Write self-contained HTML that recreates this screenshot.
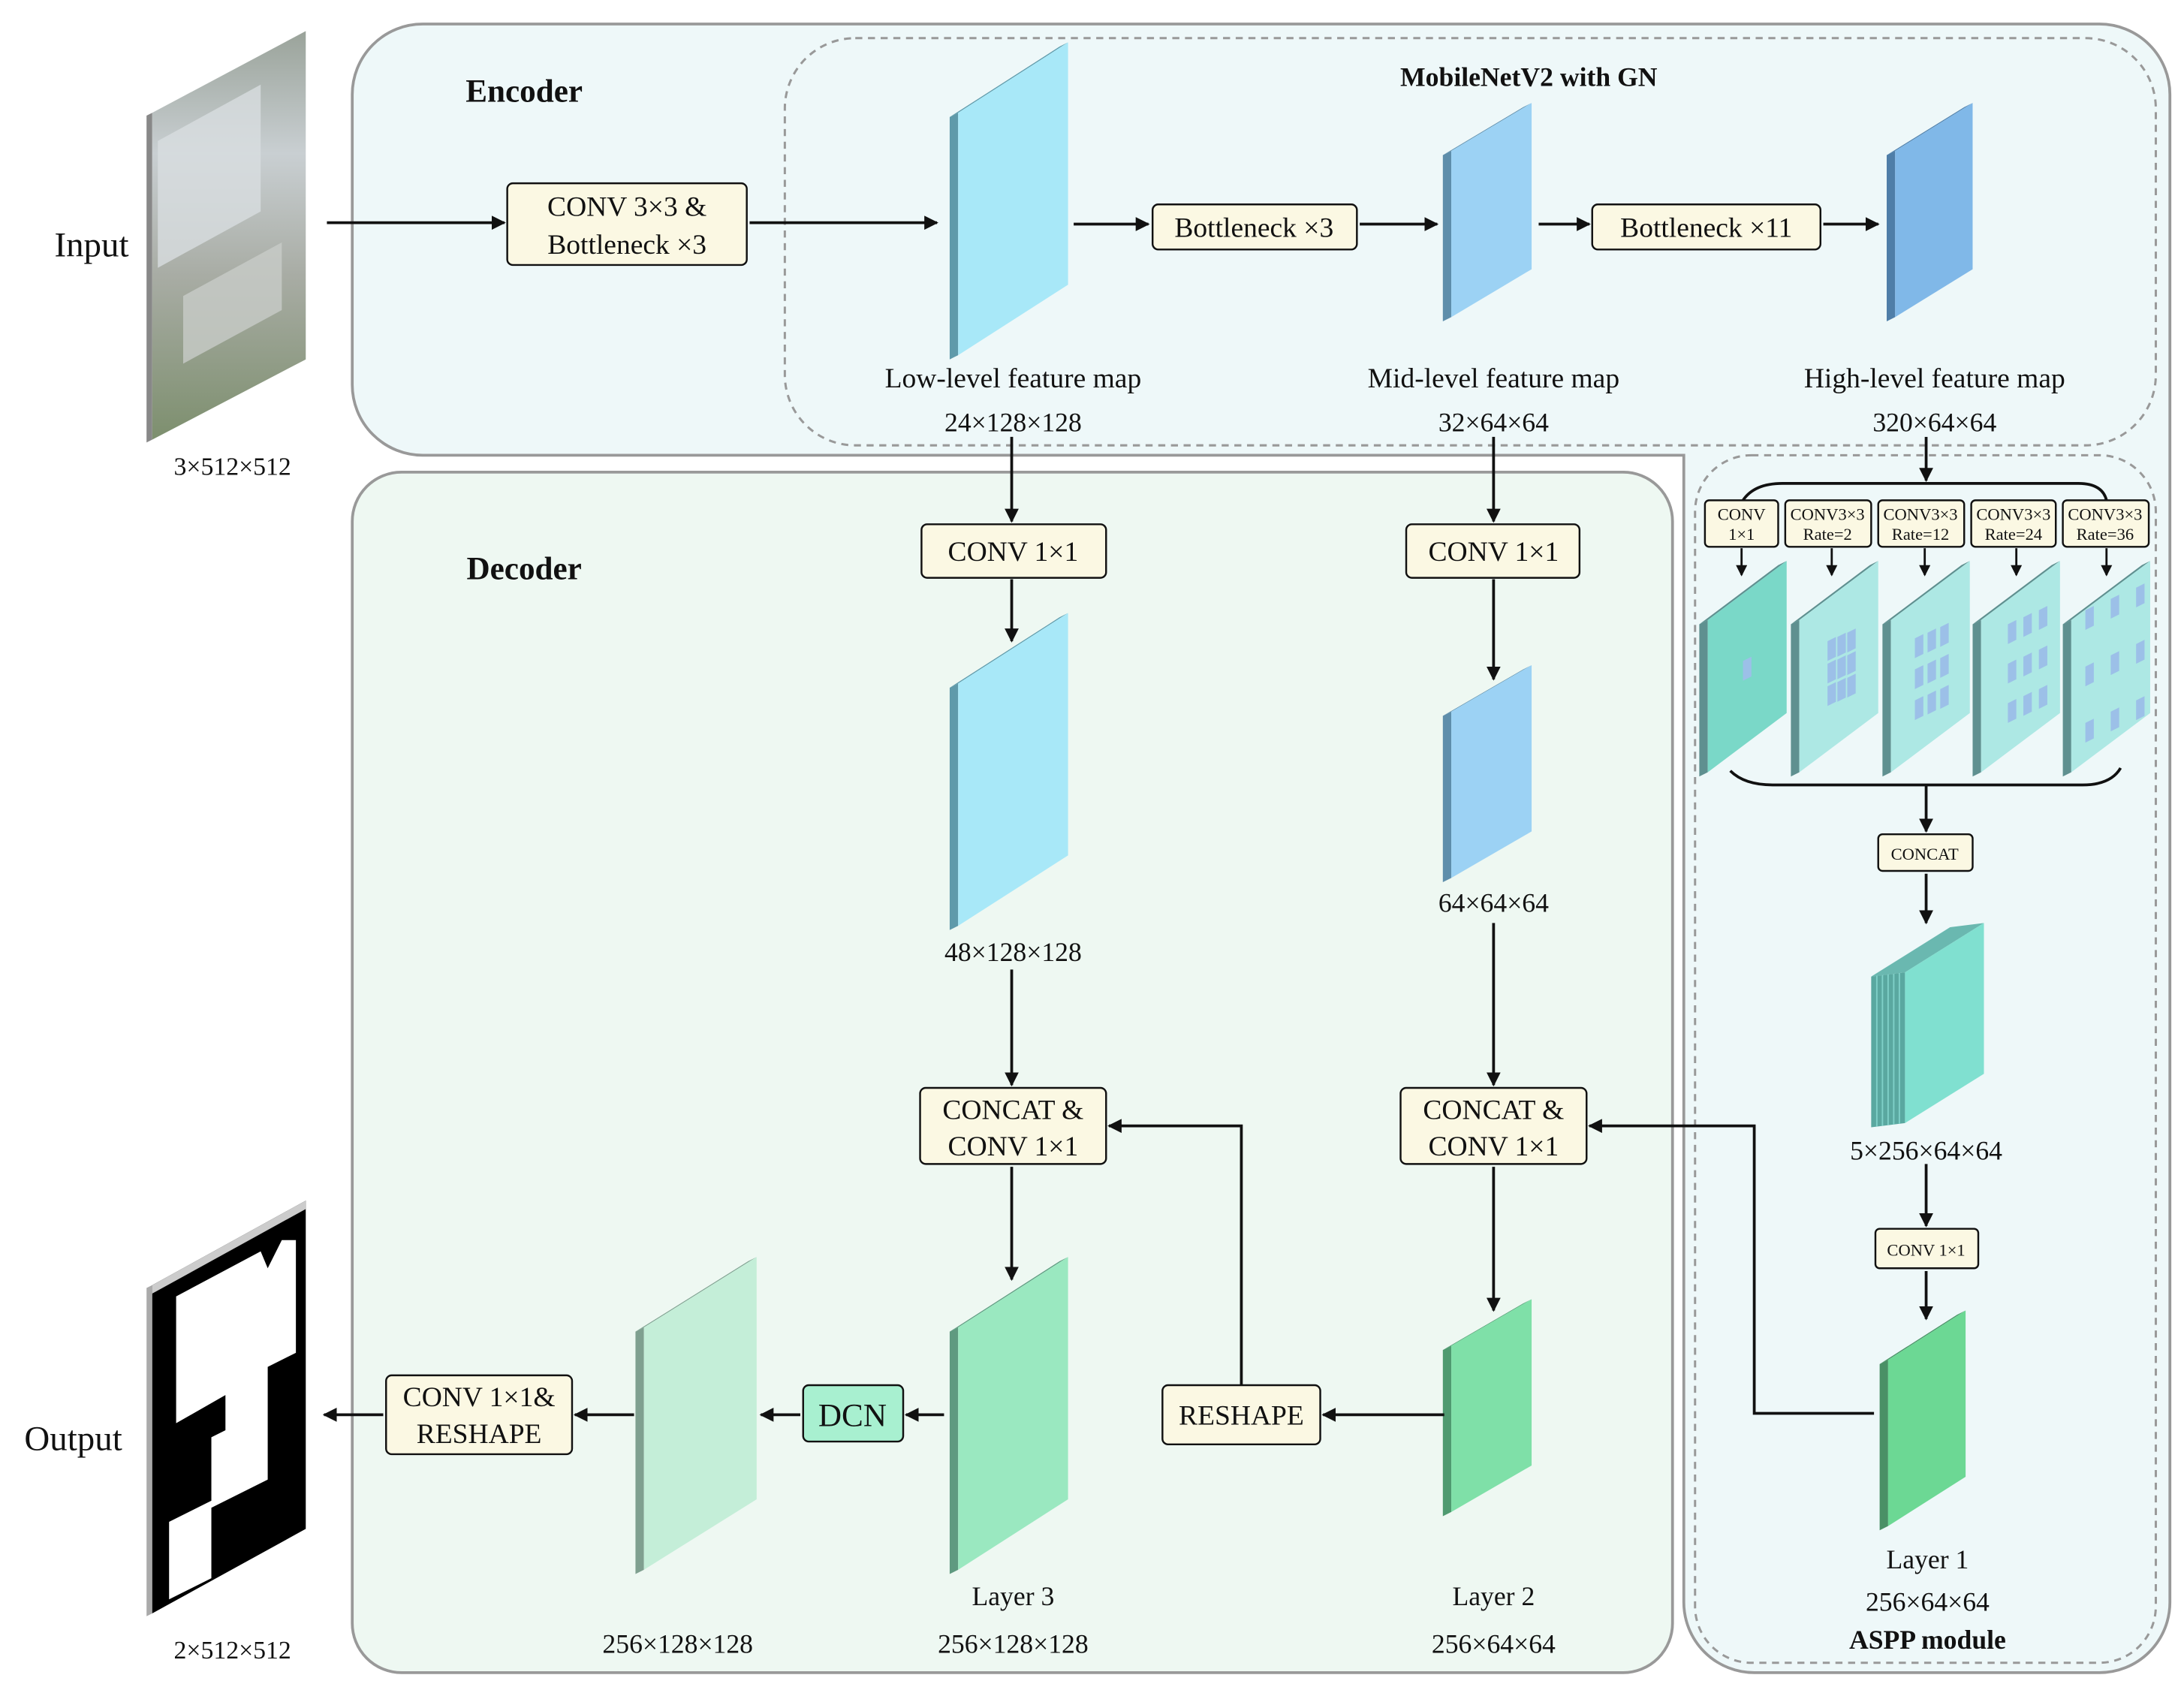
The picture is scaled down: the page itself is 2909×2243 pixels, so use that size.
<!DOCTYPE html>
<html><head><meta charset="utf-8"><style>
html,body{margin:0;padding:0;background:#fff}
svg{display:block}
text{font-family:"Liberation Serif",serif;fill:#111}
.b{fill:#fbf8e3;stroke:#111;stroke-width:1.3}
.l{stroke:#111;stroke-width:2;fill:none}
</style></head><body>
<svg id="s" width="2909" height="2243" viewBox="0 0 1550 1195" xmlns="http://www.w3.org/2000/svg">
<defs>
<marker id="a" markerWidth="10" markerHeight="10" refX="9" refY="5" orient="auto" markerUnits="userSpaceOnUse"><path d="M0,0 L10,5 L0,10 z" fill="#111"/></marker>
<marker id="as" markerWidth="8" markerHeight="8" refX="7" refY="4" orient="auto" markerUnits="userSpaceOnUse"><path d="M0,0 L8,4 L0,8 z" fill="#111"/></marker>
<linearGradient id="gi" x1="0" y1="0" x2="0" y2="1"><stop offset="0" stop-color="#9aa39a"/><stop offset=".3" stop-color="#c9cfd2"/><stop offset=".6" stop-color="#a8aca4"/><stop offset="1" stop-color="#7d8f6e"/></linearGradient>
</defs>
<path d="M300,17 H1490 A50,50 0 0 1 1540,67 V1137 A50,50 0 0 1 1490,1187 H1245 A50,50 0 0 1 1195,1137 V323 H300 A50,50 0 0 1 250,273 V67 A50,50 0 0 1 300,17 Z" fill="#eef8f9" stroke="#999" stroke-width="2"/>
<rect x="250" y="335" width="937" height="852" rx="35" fill="#eef8f2" stroke="#999" stroke-width="2"/>
<rect x="557" y="27" width="973" height="289" rx="50" fill="none" stroke="#999" stroke-width="1.6" stroke-dasharray="5,4"/>
<rect x="1203" y="323" width="327" height="857" rx="40" fill="none" stroke="#999" stroke-width="1.6" stroke-dasharray="5,4"/>
<g id="slabs"></g>
<polygon points="108,80 217,22 217,255 108,312" fill="url(#gi)"/>
<polygon points="112,100 185,60 185,150 112,190" fill="#d8dde0" opacity=".8"/>
<polygon points="130,210 200,172 200,220 130,258" fill="#c8ccc8" opacity=".8"/>
<polygon points="104,82 108,80 108,312 104,314" fill="#888"/>
<polygon points="108,912 217,852 217,1085 108,1145" fill="#000"/>
<polygon points="104,914 108,912 108,1145 104,1147" fill="#aaa"/>
<polygon points="108,912 217,852 217,858 108,918" fill="#ccc"/>
<path d="M125,920 L185,888 L190,900 L200,880 L210,880 L210,960 L190,970 L190,1050 L150,1070 L150,1020 L160,1015 L160,990 L125,1010 Z" fill="#fff"/>
<path d="M120,1080 L150,1065 L150,1120 L120,1135 Z" fill="#fff"/>
<rect class="b" x="360" y="130" width="170" height="58" rx="4"/>
<rect class="b" x="818" y="145" width="145" height="32" rx="4"/>
<rect class="b" x="1130" y="145" width="162" height="32" rx="4"/>
<rect class="b" x="654" y="372" width="131" height="38" rx="4"/>
<rect class="b" x="998" y="372" width="123" height="38" rx="4"/>
<rect class="b" x="653" y="772" width="132" height="54" rx="4"/>
<rect class="b" x="994" y="772" width="132" height="54" rx="4"/>
<rect class="b" x="825" y="983" width="112" height="42" rx="4"/>
<rect x="570" y="983" width="71" height="40" rx="4" fill="#a8f0d0" stroke="#111" stroke-width="1.3"/>
<rect class="b" x="274" y="976" width="132" height="56" rx="4"/>
<rect class="b" x="1210" y="355" width="52" height="33" rx="3"/>
<rect class="b" x="1267" y="355" width="61" height="33" rx="3"/>
<rect class="b" x="1333" y="355" width="61" height="33" rx="3"/>
<rect class="b" x="1399" y="355" width="60" height="33" rx="3"/>
<rect class="b" x="1464" y="355" width="61" height="33" rx="3"/>
<rect class="b" x="1333" y="592" width="67" height="26" rx="3"/>
<rect class="b" x="1331" y="872" width="73" height="28" rx="3"/>
<g class="l" marker-end="url(#a)">
<line x1="232" y1="158" x2="358" y2="158"/>
<line x1="532" y1="158" x2="665" y2="158"/>
<line x1="762" y1="159" x2="815" y2="159"/>
<line x1="965" y1="159" x2="1020" y2="159"/>
<line x1="1092" y1="159" x2="1128" y2="159"/>
<line x1="1294" y1="159" x2="1333" y2="159"/>
<line x1="718" y1="310" x2="718" y2="370"/>
<line x1="718" y1="411" x2="718" y2="455"/>
<line x1="1060" y1="310" x2="1060" y2="370"/>
<line x1="1060" y1="411" x2="1060" y2="482"/>
<line x1="718" y1="688" x2="718" y2="770"/>
<line x1="1060" y1="655" x2="1060" y2="770"/>
<line x1="718" y1="828" x2="718" y2="908"/>
<line x1="1060" y1="828" x2="1060" y2="930"/>
<line x1="1025" y1="1004" x2="939" y2="1004"/>
<polyline points="881,983 881,799 787,799"/>
<polyline points="1330,1003 1245,1003 1245,799 1128,799"/>
<line x1="670" y1="1004" x2="643" y2="1004"/>
<line x1="568" y1="1004" x2="540" y2="1004"/>
<line x1="450" y1="1004" x2="408" y2="1004"/>
<line x1="272" y1="1004" x2="230" y2="1004"/>
<line x1="1367" y1="310" x2="1367" y2="341"/>
<line x1="1367" y1="557" x2="1367" y2="590"/>
<line x1="1367" y1="620" x2="1367" y2="655"/>
<line x1="1367" y1="826" x2="1367" y2="870"/>
<line x1="1367" y1="902" x2="1367" y2="936"/>
</g>
<g stroke="#111" stroke-width="1.5" marker-end="url(#as)">
<line x1="1236" y1="389" x2="1236" y2="408"/>
<line x1="1300" y1="389" x2="1300" y2="408"/>
<line x1="1366" y1="389" x2="1366" y2="408"/>
<line x1="1431" y1="389" x2="1431" y2="408"/>
<line x1="1495" y1="389" x2="1495" y2="408"/>
</g>
<path d="M1237,355 Q1245,343 1265,343 H1475 Q1492,343 1495,355" class="l"/>
<path d="M1228,547 Q1238,557 1258,557 H1478 Q1498,557 1505,545" class="l"/>
<g font-size="20" text-anchor="middle">
<text x="445" y="153">CONV 3×3 &amp;</text><text x="445" y="180">Bottleneck ×3</text>
<text x="890" y="168">Bottleneck ×3</text>
<text x="1211" y="168">Bottleneck ×11</text>
<text x="719" y="398">CONV 1×1</text>
<text x="1060" y="398">CONV 1×1</text>
<text x="719" y="794">CONCAT &amp;</text><text x="719" y="820">CONV 1×1</text>
<text x="1060" y="794">CONCAT &amp;</text><text x="1060" y="820">CONV 1×1</text>
<text x="881" y="1011">RESHAPE</text>
<text x="605" y="1012" font-size="23">DCN</text>
<text x="340" y="998">CONV 1×1&amp;</text><text x="340" y="1024">RESHAPE</text>
<text x="719" y="275">Low-level feature map</text><text x="719" y="306" font-size="19">24×128×128</text>
<text x="1060" y="275">Mid-level feature map</text><text x="1060" y="306" font-size="19">32×64×64</text>
<text x="1373" y="275">High-level feature map</text><text x="1373" y="306" font-size="19">320×64×64</text>
<text x="719" y="682" font-size="19">48×128×128</text>
<text x="1060" y="647" font-size="19">64×64×64</text>
<text x="1367" y="823" font-size="19">5×256×64×64</text>
<text x="719" y="1139" font-size="19">Layer 3</text><text x="719" y="1173" font-size="19">256×128×128</text>
<text x="481" y="1173" font-size="19">256×128×128</text>
<text x="1060" y="1139" font-size="19">Layer 2</text><text x="1060" y="1173" font-size="19">256×64×64</text>
<text x="1368" y="1113" font-size="19">Layer 1</text><text x="1368" y="1143" font-size="19">256×64×64</text>
<text x="1368" y="1170" font-size="19" font-weight="bold">ASPP module</text>
<text x="165" y="337" font-size="18">3×512×512</text>
<text x="165" y="1177" font-size="18">2×512×512</text>
<text x="65" y="182" font-size="25">Input</text>
<text x="52" y="1029" font-size="25">Output</text>
<text x="1085" y="61" font-size="19" font-weight="bold">MobileNetV2 with GN</text>
<g font-size="12"><text x="1236" y="369">CONV</text><text x="1236" y="383">1×1</text>
<text x="1297" y="369">CONV3×3</text><text x="1297" y="383">Rate=2</text>
<text x="1363" y="369">CONV3×3</text><text x="1363" y="383">Rate=12</text>
<text x="1429" y="369">CONV3×3</text><text x="1429" y="383">Rate=24</text>
<text x="1494" y="369">CONV3×3</text><text x="1494" y="383">Rate=36</text>
<text x="1366" y="610">CONCAT</text><text x="1367" y="891">CONV 1×1</text></g>
</g>
<text x="372" y="72" font-size="23" font-weight="bold" text-anchor="middle">Encoder</text>
<text x="372" y="411" font-size="23" font-weight="bold" text-anchor="middle">Decoder</text>
</svg>
<script>
var g=document.getElementById('slabs'),NS="http://www.w3.org/2000/svg";
function P(pts,fill){var p=document.createElementNS(NS,'polygon');p.setAttribute('points',pts);p.setAttribute('fill',fill);g.appendChild(p);return p;}
function slab(x,w,tl,tr,h,c,d,t){t=t||6;
 P((x-t)+','+(tl+3)+' '+(x+w-t)+','+(tr+3)+' '+(x+w)+','+tr+' '+x+','+tl,d);
 P((x-t)+','+(tl+3)+' '+x+','+tl+' '+x+','+(tl+h)+' '+(x-t)+','+(tl+h+3),d);
 P(x+','+tl+' '+(x+w)+','+tr+' '+(x+w)+','+(tr+h)+' '+x+','+(tl+h),c);}
slab(680,78,80,30,172,'#a8e8f8','#5f9aaa');
slab(1030,57,107,73,118,'#9cd2f4','#5e8eab');
slab(1345,55,107,73,118,'#80b8e8','#4f7ea8');
slab(680,78,485,435,172,'#a8e8f8','#5f9aaa');
slab(1030,57,505,472,118,'#9cd2f4','#5e8eab');
slab(680,78,942,892,172,'#9ae8c0','#5f9a80');
slab(457,80,942,892,172,'#c4eed8','#7fa090');
slab(1030,57,955,922,118,'#7fe0a8','#4f9a70');
slab(1340,55,965,930,118,'#6cd894','#4a9066');
[1212,1277,1342,1406,1470].forEach(function(x,i){slab(x,56,440,398,108,i==0?'#7ad8c8':'#ade8e4','#5f9090');});
// concat stack: thick left side with stripes
P('1328,693 1384,658 1408,655 1352,690','#6ab8b0');
P('1328,693 1352,690 1352,797 1328,800','#5aa8a0');
for(var k=1;k<6;k++){var xx=1328+k*4;var l=document.createElementNS(NS,'line');l.setAttribute('x1',xx);l.setAttribute('y1',693-k*0.5);l.setAttribute('x2',xx);l.setAttribute('y2',800-k*0.5);l.setAttribute('stroke','#7fd0c8');l.setAttribute('stroke-width','1');g.appendChild(l);}
P('1352,690 1408,655 1408,762 1352,797','#80e0d0');
function R(x,y){P(x+','+(y+3)+' '+(x+6)+','+y+' '+(x+6)+','+(y+14)+' '+x+','+(y+17),'#9cc0e8');}
R(1237,466);
[[0,0],[7,-3],[14,-6]].forEach(function(o){for(var r=0;r<3;r++)R(1297+o[0],452+o[1]+r*16);});
[[0,0],[9,-4],[18,-8]].forEach(function(o){for(var r=0;r<3;r++)R(1359+o[0],450+o[1]+r*22);});
[[0,0],[11,-5],[22,-10]].forEach(function(o){for(var r=0;r<3;r++)R(1425+o[0],440+o[1]+r*28);});
[[0,0],[18,-8],[36,-16]].forEach(function(o){for(var r=0;r<3;r++)R(1480+o[0],430+o[1]+r*40);});
</script>
</body></html>
